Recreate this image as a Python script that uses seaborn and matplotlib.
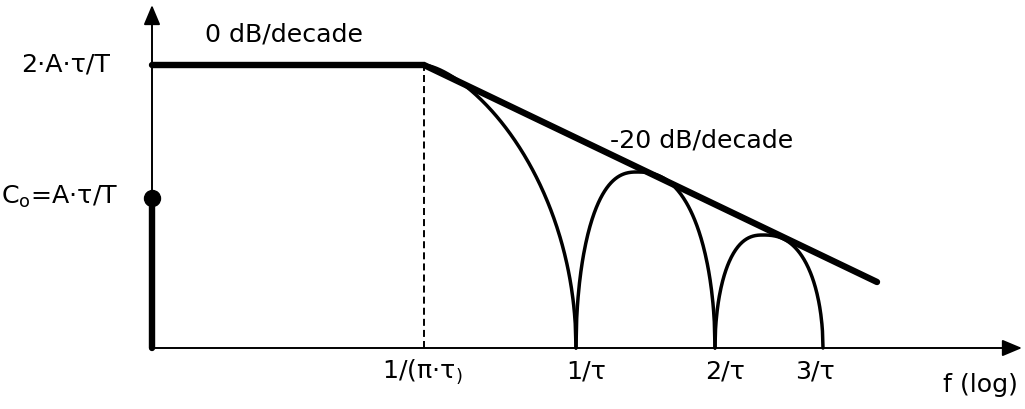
import numpy as np
import pandas as pd
import matplotlib
matplotlib.use("Agg")
import matplotlib.pyplot as plt
import seaborn as sns

sns.set_theme(style="white")
plt.rcParams["font.family"] = ["DejaVu Sans"]
plt.rcParams["text.color"] = "black"
plt.rcParams["mathtext.fontset"] = "custom"
plt.rcParams["mathtext.rm"] = "DejaVu Sans"

# Sketch units: x = position along the log-frequency axis, y = spectral amplitude
corner_f = 272                      # 1/(pi*tau), end of the flat region
zero_f = [424, 563, 671]            # nulls at 1/tau, 2/tau, 3/tau
level_flat = 283                    # 2*A*tau/T
level_c0 = 150                      # C0 = A*tau/T (DC component)
envelope_end = [725, 66]            # end point of the -20 dB/decade asymptote
sidelobe_peak_f = [485, 611]        # peaks of the 2nd and 3rd lobes
sidelobe_peak_a = [176, 113]

tick_pos = [corner_f] + zero_f
tick_labels = [r"1/(π·τ$_\mathregular{)}$", "1/τ", "2/τ", "3/τ"]
tick_nudge = [-2, 10, 10, -8]

BLACK = "black"
THICK = 4.6
LOBE = 2.5
THIN = 1.4

fig = plt.figure(figsize=(10.25, 4.10), dpi=100)
ax = fig.add_axes([0, 0, 1, 1])
ax.set_xlim(-152, 873)
ax.set_ylim(-61, 349)
ax.axis("off")


def lobe(x_left, x_peak, x_right, height, p, n=200):
    """Arc rising from x_left to a peak and falling to a null at x_right."""
    xs = np.linspace(x_left, x_right, n)
    u = np.where(xs < x_peak,
                 (x_peak - xs) / max(x_peak - x_left, 1e-9),
                 (xs - x_peak) / (x_right - x_peak))
    ys = height * np.sqrt(np.clip(1 - np.abs(u) ** p, 0, 1))
    return pd.DataFrame({"f": xs, "a": ys})


def draw(df, **kw):
    sns.lineplot(data=df, x="f", y="a", ax=ax, sort=False, estimator=None,
                 color=BLACK, **kw)


# main lobe (starts at the corner, falls to the first null)
draw(lobe(corner_f, corner_f, zero_f[0], level_flat, 1.5), lw=LOBE)

# side lobes between successive nulls
for (xl, xr), xp, h in zip(zip(zero_f[:-1], zero_f[1:]), sidelobe_peak_f, sidelobe_peak_a):
    draw(lobe(xl, xp, xr, h, 2.5), lw=LOBE)

# asymptotes: flat 0 dB/decade then -20 dB/decade
asym = pd.DataFrame({"f": [0, corner_f, envelope_end[0]],
                     "a": [level_flat, level_flat, envelope_end[1]]})
draw(asym, lw=THICK, solid_joinstyle="miter")

# DC component
dc = pd.DataFrame({"f": [0, 0], "a": [0, level_c0]})
draw(dc, lw=THICK)
ax.plot([0], [level_c0], "o", color=BLACK, markersize=11.5, zorder=5)

# corner frequency marker
ax.plot([corner_f, corner_f], [0, level_flat], color=BLACK, lw=THIN,
        dashes=(3.6, 2.1))

# axes with arrow heads
arrow = dict(arrowstyle="-|>,head_length=1.0,head_width=0.42", lw=THIN,
             color=BLACK, shrinkA=0, shrinkB=0)
ax.annotate("", xy=(0, 343), xytext=(0, 0), arrowprops=arrow)
ax.annotate("", xy=(870, 0), xytext=(-2, 0), arrowprops=arrow)

fs = 18.2
for pos, lab, dx in zip(tick_pos, tick_labels, tick_nudge):
    ax.text(pos + dx, -23, lab, ha="center", va="center", fontsize=fs)

ax.text(-42, level_flat + 2, "2·A·τ/T", ha="right", va="center", fontsize=fs)
ax.text(-34, level_c0 + 2, r"C$_\mathregular{o}$=A·τ/T", ha="right", va="center", fontsize=fs)
ax.text(53, 314, "0 dB/decade", ha="left", va="center", fontsize=fs)
ax.text(458, 209, "-20 dB/decade", ha="left", va="center", fontsize=fs)
ax.text(866, -36, "f (log)", ha="right", va="center", fontsize=fs)

fig.savefig("out.png", dpi=100)
